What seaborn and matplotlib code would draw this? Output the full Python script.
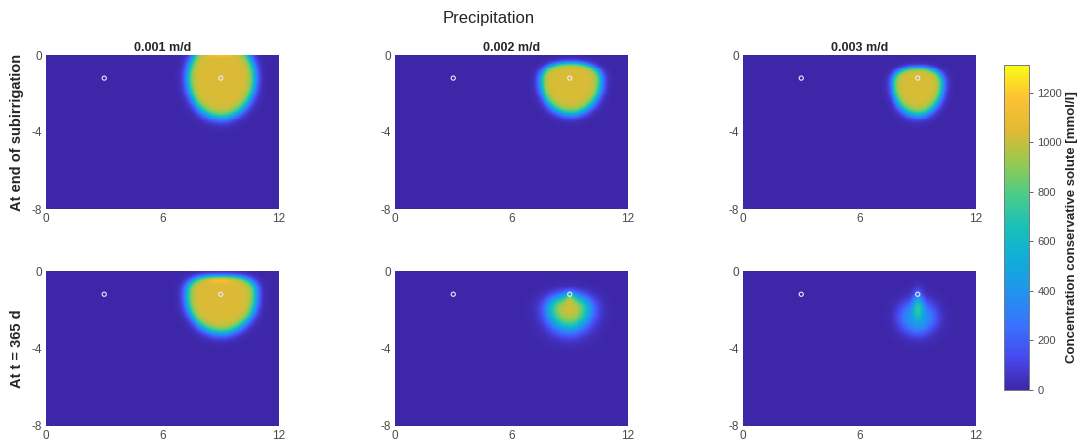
import numpy as np
import matplotlib
matplotlib.use("Agg")
import matplotlib.pyplot as plt
import seaborn as sns
from matplotlib.colors import LinearSegmentedColormap

# ---------------------------------------------------------------- labels
rates = ["0.001 m/d", "0.002 m/d", "0.003 m/d"]
row_labels = ["At end of subirrigation", "At t = 365 d"]
suptitle = "Precipitation"
cbar_label = "Concentration conservative solute [mmol/l]"

# ---------------------------------------------------------------- domain
domain_width = 12.0      # m
domain_depth = 8.0       # m
cell = 0.05              # m
x_ticks = [0, 6, 12]
y_ticks = [0, -4, -8]
cbar_ticks = [0, 200, 400, 600, 800, 1000, 1200]
c_min, c_max = 0, 1313

# well screens (x, depth)
well_x = [3.0, 9.0]
well_y = [-1.2, -1.2]

# ---------------------------------------------------------------- plumes
# one entry per panel, row-major: (end of subirrigation: 1,2,3 mm/d), (t=365 d: 1,2,3 mm/d)
plume_xc = [9.02, 9.05, 9.00, 9.02, 8.97, 9.00]
plume_yc = [-1.20, -1.35, -1.50, -1.30, -1.95, -2.40]
plume_a = [1.72, 1.55, 1.28, 1.78, 1.00, 0.85]
plume_b_up = [2.00, 0.95, 0.85, 1.05, 0.65, 0.80]
plume_b_dn = [2.05, 1.70, 1.60, 1.90, 1.00, 0.78]
plume_p_up = [2.0, 2.3, 2.3, 3.0, 2.0, 2.0]
plume_soft = [0.075, 0.08, 0.09, 0.075, 0.25, 0.25]
plume_peak = [1040, 1035, 1035, 1040, 1040, 430]

# local concentration maxima (infiltration front / well screen)
bump_x = [9.0, 9.0, 9.0, 9.0, 9.0, 9.0]
bump_y = [-0.03, -1.2, -1.2, -0.45, -1.35, -1.80]
bump_sx = [0.45, 0.10, 0.10, 0.50, 0.15, 0.18]
bump_sy = [0.07, 0.10, 0.10, 0.11, 0.20, 0.50]
bump_amp = [110, 0, 0, 160, 260, 380]

# parula-like colour map
parula_colors = [
    (0.243, 0.150, 0.660), (0.276, 0.290, 0.940), (0.220, 0.450, 0.995),
    (0.130, 0.580, 0.930), (0.060, 0.680, 0.850), (0.100, 0.750, 0.730),
    (0.290, 0.800, 0.540), (0.590, 0.790, 0.310), (0.880, 0.730, 0.200),
    (0.990, 0.760, 0.200), (0.977, 0.984, 0.081),
]
parula = LinearSegmentedColormap.from_list("parula", parula_colors, N=256)


def concentration_field(k):
    nx = int(round(domain_width / cell))
    ny = int(round(domain_depth / cell))
    xs = (np.arange(nx) + 0.5) * cell
    ys = -(np.arange(ny) + 0.5) * cell
    X, Y = np.meshgrid(xs, ys)
    above = Y > plume_yc[k]
    dx = np.abs(X - plume_xc[k]) / plume_a[k]
    dy = np.where(above, (Y - plume_yc[k]) / plume_b_up[k],
                  (plume_yc[k] - Y) / plume_b_dn[k])
    p = np.where(above, plume_p_up[k], 2.0)
    d = (dx ** p + np.abs(dy) ** p) ** (1.0 / p)
    c = plume_peak[k] / (1.0 + np.exp((d - 1.0) / plume_soft[k]))
    c += bump_amp[k] * np.exp(-0.5 * (((X - bump_x[k]) / bump_sx[k]) ** 2
                                      + ((Y - bump_y[k]) / bump_sy[k]) ** 2))
    return np.clip(c, c_min, c_max)


def to_col(x):
    return x / cell


def to_row(y):
    return -y / cell


sns.set_theme(style="white")
plt.rcParams["font.family"] = ["Liberation Sans", "DejaVu Sans"]

W, H = 1084, 445
fig = plt.figure(figsize=(W / 100, H / 100), dpi=100)

col_left = [46, 395, 743]
col_width = 233
row_top = [55, 271]
row_height = [154, 155]

cbar_ax = fig.add_axes([1004 / W, 1 - 390 / H, 25 / W, 325 / H])
tick_color = "#4a4a4a"

for r in range(2):
    for c in range(3):
        k = r * 3 + c
        ax = fig.add_axes([col_left[c] / W, 1 - (row_top[r] + row_height[r]) / H,
                           col_width / W, row_height[r] / H])
        field = concentration_field(k)
        sns.heatmap(field, ax=ax, cmap=parula, vmin=c_min, vmax=c_max,
                    cbar=(k == 0), cbar_ax=cbar_ax if k == 0 else None,
                    xticklabels=False, yticklabels=False, rasterized=True)
        ax.scatter([to_col(v) for v in well_x], [to_row(v) for v in well_y],
                   s=9, facecolors="none", edgecolors="#ece6ff", linewidths=0.8,
                   zorder=5)
        ax.set_xticks([to_col(v) for v in x_ticks])
        ax.set_xticklabels([str(v) for v in x_ticks], rotation=0)
        ax.set_yticks([to_row(v) for v in y_ticks])
        ax.set_yticklabels([str(v) for v in y_ticks], rotation=0)
        ax.tick_params(axis="both", length=0, labelsize=8.5, colors=tick_color,
                       pad=3)
        ax.set_xlabel("")
        ax.set_ylabel("")
        if r == 0:
            ax.set_title(rates[c], fontsize=9, fontweight="bold", pad=3)

# colour bar
cbar_ax.set_yticks(cbar_ticks)
cbar_ax.set_yticklabels([str(v) for v in cbar_ticks])
cbar_ax.tick_params(axis="y", right=True, length=3, width=0.6, labelsize=8,
                    colors=tick_color, pad=3)
for s in cbar_ax.spines.values():
    s.set_visible(True)
    s.set_color("#7a7a7a")
    s.set_linewidth(0.6)
cbar_ax.set_ylabel(cbar_label, fontsize=9.5, fontweight="bold", labelpad=3)
cbar_ax.yaxis.set_label_position("right")

# row labels
for r in range(2):
    yc = 1 - (row_top[r] + row_height[r] / 2) / H
    fig.text(17 / W, yc, row_labels[r], rotation=90, ha="center", va="center",
             fontsize=10.5, fontweight="bold")

fig.text(489 / W, 1 - 19 / H, suptitle, ha="center", va="center", fontsize=12)

fig.savefig("out.png", dpi=100)
